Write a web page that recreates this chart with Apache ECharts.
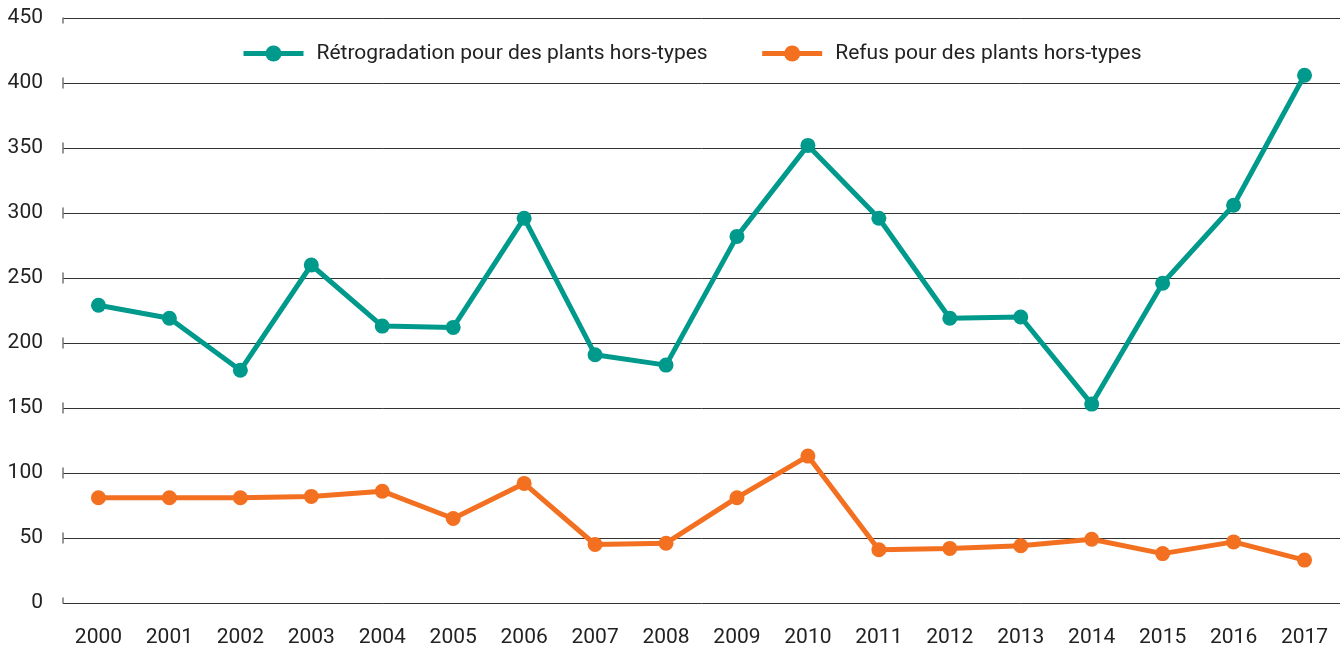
<!DOCTYPE html>
<html>
<head>
<meta charset="utf-8">
<script src="https://cdn.jsdelivr.net/npm/echarts@6/dist/echarts.min.js"></script>
<style>
  html, body { margin: 0; padding: 0; background: #fff; }
  #chart { width: 1344px; height: 649px; }
</style>
</head>
<body>
<div id="chart"></div>
<script>
const years = ['2000', '2001', '2002', '2003', '2004', '2005', '2006', '2007', '2008',
  '2009', '2010', '2011', '2012', '2013', '2014', '2015', '2016', '2017'];
const retrogradation = [229, 219, 179, 260, 213, 212, 296, 191, 183, 282, 352, 296, 219, 220, 153, 246, 306, 406];
const refus = [81, 81, 81, 82, 86, 65, 92, 45, 46, 81, 113, 41, 42, 44, 49, 38, 47, 33];
const seriesNames = ['Rétrogradation pour des plants hors-types', 'Refus pour des plants hors-types'];
const colors = ['#009a8c', '#f37021'];

const chart = echarts.init(document.getElementById('chart'));

const lineSeries = (name, data, color) => ({
  name: name,
  type: 'line',
  data: data,
  symbol: 'circle',
  symbolSize: 15,
  color: color,
  lineStyle: { width: 5, color: color },
  itemStyle: { color: color },
  emphasis: { disabled: true },
  animation: false
});

chart.setOption({
  textStyle: { fontFamily: 'Roboto' },
  grid: { left: 63, right: 4, top: 18, bottom: 46, containLabel: false },
  legend: {
    top: 38,
    left: 236,
    itemWidth: 60,
    itemHeight: 20,
    itemGap: 52,
    lineStyle: { width: 5 },
    textStyle: { fontSize: 21, color: '#222', padding: [0, 0, 0, 8] },
    data: seriesNames
  },
  xAxis: {
    type: 'category',
    data: years,
    boundaryGap: true,
    axisLine: { show: false },
    axisTick: { show: false },
    axisLabel: { fontSize: 21, color: '#222', margin: 24 }
  },
  yAxis: {
    type: 'value',
    min: 0,
    max: 450,
    interval: 50,
    axisLine: {
      show: true,
      lineStyle: { color: '#777', width: 1.5, type: [10, 55], dashOffset: 5 }
    },
    axisTick: { show: false },
    axisLabel: { fontSize: 21, color: '#222', margin: 20 },
    splitLine: { lineStyle: { color: '#333', width: 1 } }
  },
  series: [
    lineSeries(seriesNames[0], retrogradation, colors[0]),
    lineSeries(seriesNames[1], refus, colors[1])
  ]
});
</script>
</body>
</html>
